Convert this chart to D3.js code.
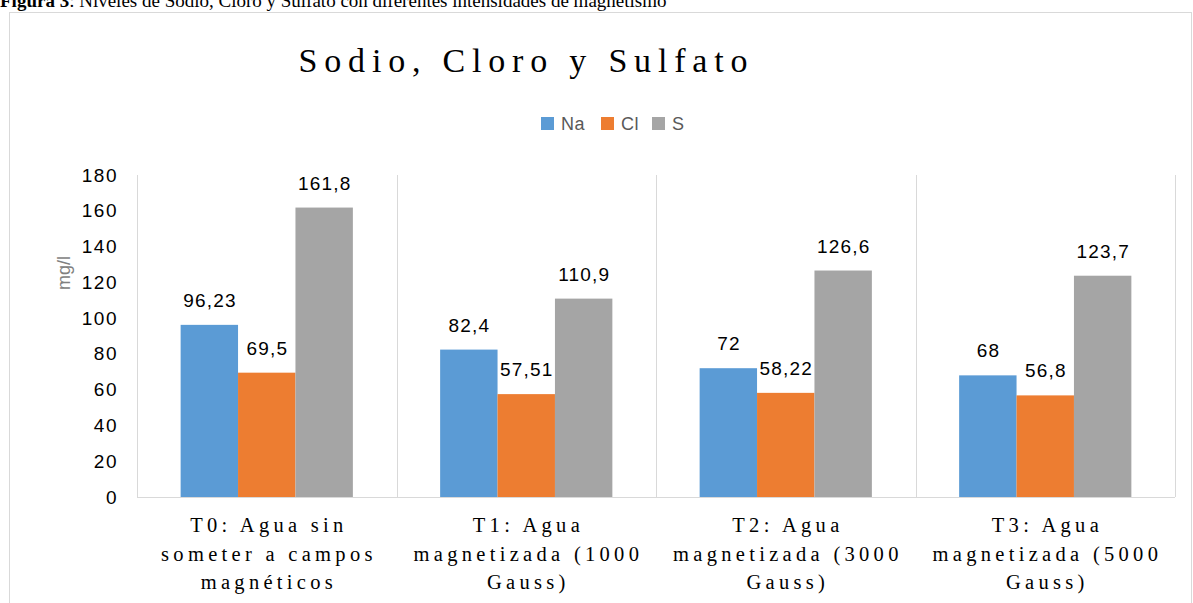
<!DOCTYPE html>
<html><head><meta charset="utf-8">
<script src="https://cdn.jsdelivr.net/npm/d3@7"></script>
<style>body{margin:0;background:#fff}svg{display:block}</style>
</head><body>
<svg id="c" width="1193" height="603"></svg>
<script>
const categories = [
  ["T0: Agua sin", "someter a campos", "magnéticos"],
  ["T1: Agua", "magnetizada (1000", "Gauss)"],
  ["T2: Agua", "magnetizada (3000", "Gauss)"],
  ["T3: Agua", "magnetizada (5000", "Gauss)"]
];
const seriesNames = ["Na", "Cl", "S"];
const na = [96.23, 82.4, 72, 68];
const cl = [69.5, 57.51, 58.22, 56.8];
const s = [161.8, 110.9, 126.6, 123.7];
const yTicks = [0, 20, 40, 60, 80, 100, 120, 140, 160, 180];
const colors = ["#5B9BD5", "#ED7D31", "#A5A5A5"];

const svg = d3.select("#c");
const seriesVals = [na, cl, s];
const fmt = v => String(v).replace(".", ",");
const sans = "Liberation Sans, Arial, sans-serif";
const serif = "Liberation Serif, Times New Roman, serif";

// caption (partially cut at top, as in the source)
const cap = svg.append("text").attr("x", 0).attr("y", 7)
  .attr("font-family", serif).attr("font-size", 19).attr("fill", "#000");
cap.append("tspan").attr("font-weight", "bold").text("Figura 3");
cap.append("tspan").text(": Niveles de Sodio, Cloro y Sulfato con diferentes intensidades de magnetismo");

// frame
svg.append("rect").attr("x", 9.5).attr("y", 12.5).attr("width", 1182).attr("height", 600)
  .attr("fill", "none").attr("stroke", "#d9d9d9");

const x0 = 137, x1 = 1175, yTop = 175, yBot = 497;
const x = d3.scaleBand().domain(d3.range(categories.length)).range([x0, x1]).paddingInner(0).paddingOuter(0);
const xs = d3.scaleBand().domain(d3.range(3)).range([0, x.bandwidth()]).paddingOuter(0.76).paddingInner(0);
const y = d3.scaleLinear().domain([0, 180]).range([yBot, yTop]);

// category dividers
svg.append("g").selectAll("line").data(d3.range(categories.length + 1)).join("line")
  .attr("x1", i => Math.round(x0 + i * x.bandwidth()) + 0.5)
  .attr("x2", i => Math.round(x0 + i * x.bandwidth()) + 0.5)
  .attr("y1", yTop).attr("y2", yBot)
  .attr("stroke", "#d9d9d9").attr("stroke-width", 1);

// bars + labels
const g = svg.append("g");
seriesVals.forEach((vals, si) => {
  g.append("g").selectAll("rect").data(vals).join("rect")
    .attr("x", (d, i) => x(i) + xs(si))
    .attr("width", xs.bandwidth())
    .attr("y", d => y(d))
    .attr("height", d => y(0) - y(d))
    .attr("fill", colors[si]);
  g.append("g").selectAll("text").data(vals).join("text")
    .attr("x", (d, i) => x(i) + xs(si) + xs.bandwidth() / 2 + 0.6)
    .attr("y", d => y(d) - 18)
    .attr("text-anchor", "middle")
    .attr("font-family", sans).attr("font-size", 19).attr("letter-spacing", 1.2)
    .attr("fill", "#000").text(d => fmt(d));
});

// x axis line
svg.append("line").attr("x1", x0).attr("x2", x1).attr("y1", yBot + 0.5).attr("y2", yBot + 0.5)
  .attr("stroke", "#d9d9d9");

// y axis ticks
const yAxis = d3.axisLeft(y).tickValues(yTicks).tickSize(0).tickPadding(19);
const ya = svg.append("g").attr("transform", `translate(${x0},0)`).call(yAxis);
ya.select(".domain").remove();
ya.selectAll("text").attr("font-family", sans).attr("font-size", 19).attr("letter-spacing", 1.5).attr("fill", "#000");

// y axis title
svg.append("text").attr("transform", "translate(70,273) rotate(-90)")
  .attr("text-anchor", "middle").attr("font-family", sans)
  .attr("font-size", 18).attr("fill", "#808080").text("mg/l");

// category labels
const cg = svg.append("g");
const ls = 4.3;
categories.forEach((lines, i) => {
  const t = cg.append("text").attr("text-anchor", "middle")
    .attr("font-family", serif).attr("font-size", 20.5)
    .attr("letter-spacing", ls).attr("fill", "#000");
  lines.forEach((ln, j) => {
    t.append("tspan").attr("x", x(i) + x.bandwidth() / 2 + ls / 2).attr("y", 532 + j * 28.5).text(ln);
  });
});

// title
const tls = 6.8;
svg.append("text").attr("x", 523 + tls / 2).attr("y", 72).attr("text-anchor", "middle")
  .attr("font-family", serif).attr("font-size", 34)
  .attr("letter-spacing", tls).attr("fill", "#000").text("Sodio, Cloro y Sulfato");

// legend
const legX = [541, 601, 652];
const lg = svg.append("g");
seriesNames.forEach((n, i) => {
  lg.append("rect").attr("x", legX[i]).attr("y", 117).attr("width", 13).attr("height", 13).attr("fill", colors[i]);
  lg.append("text").attr("x", legX[i] + 20).attr("y", 130)
    .attr("font-family", sans).attr("font-size", 18).attr("letter-spacing", 0.6)
    .attr("fill", "#595959").text(n);
});
</script>
</body></html>
